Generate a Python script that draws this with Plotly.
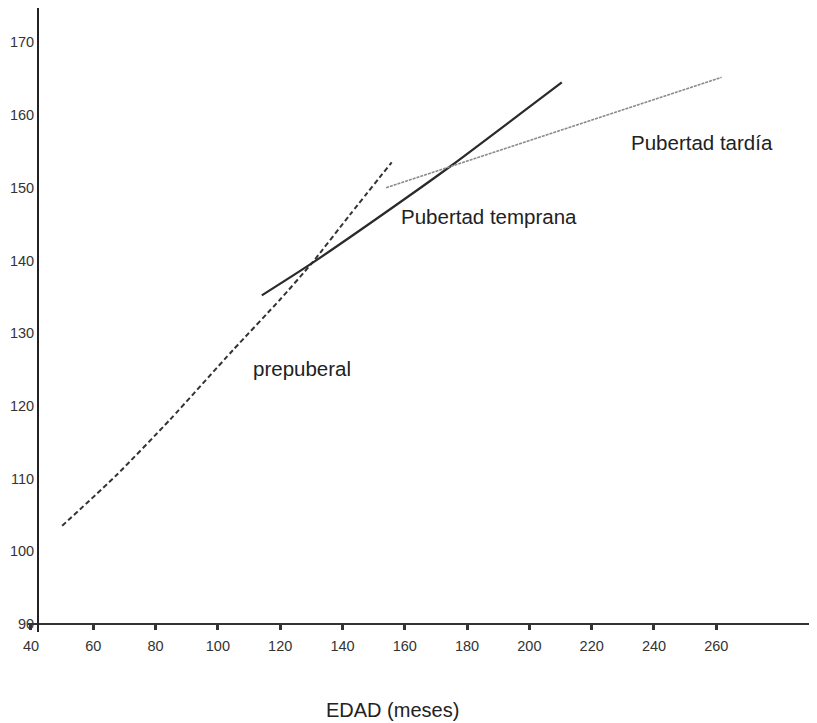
import plotly.graph_objects as go

# Data
prepuberal_age = [50, 67.5, 84.6, 104.9, 119.9, 130.1, 142.4, 155.8]
prepuberal_height = [103.5, 110.5, 118.1, 127.7, 134.6, 139.6, 146.3, 153.5]

temprana_age = [114.1, 130.1, 161.1, 175.1, 210.4]
temprana_height = [135.2, 139.6, 148.8, 153.1, 164.5]

tardia_age = [154, 261.7]
tardia_height = [150.0, 165.2]

x_ticks = [40, 60, 80, 100, 120, 140, 160, 180, 200, 220, 240, 260]
y_ticks = [90, 100, 110, 120, 130, 140, 150, 160, 170]

labels = ["prepuberal", "Pubertad temprana", "Pubertad tardía"]
label_age = [127.0, 186.9, 255.3]
label_height = [125.2, 146.0, 156.2]

FONT = "Liberation Sans, Arial, sans-serif"

fig = go.Figure()
fig.add_trace(go.Scatter(x=prepuberal_age, y=prepuberal_height, mode="lines",
                         line=dict(color="#333333", width=2, dash="5px,3px",
                                   shape="spline", smoothing=0.6),
                         showlegend=False))
fig.add_trace(go.Scatter(x=temprana_age, y=temprana_height, mode="lines",
                         line=dict(color="#2a2a2a", width=2.2, shape="spline", smoothing=0.6),
                         showlegend=False))
fig.add_trace(go.Scatter(x=tardia_age, y=tardia_height, mode="lines",
                         line=dict(color="#8a8a8a", width=1.6, dash="3px,1px"),
                         showlegend=False))

for t, xa, ya in zip(labels, label_age, label_height):
    fig.add_annotation(x=xa, y=ya, text=t, showarrow=False,
                       xanchor="center", yanchor="middle",
                       font=dict(family=FONT, size=20.5, color="#222222"))

fig.add_annotation(x=0.4626, y=-0.125, xref="paper", yref="paper",
                   text="EDAD (meses)", showarrow=False,
                   xanchor="center", yanchor="middle",
                   font=dict(family=FONT, size=20, color="#222222"))

fig.update_layout(
    width=809, height=715,
    margin=dict(l=20, r=0, t=0, b=91),
    paper_bgcolor="white", plot_bgcolor="white",
    font=dict(family=FONT, color="#333333"),
    xaxis=dict(range=[39.04, 292.33], tickvals=x_ticks, ticktext=[str(v) for v in x_ticks],
               showgrid=False, zeroline=False, showline=True, linecolor="#333333", linewidth=2,
               ticks="outside", ticklen=5, tickwidth=3, tickcolor="#333333",
               tickfont=dict(size=14.5, color="#333333"), ticklabelstandoff=4,
               anchor="free", position=0.01282),
    yaxis=dict(range=[88.90, 174.73], tickvals=y_ticks, ticktext=[str(v) for v in y_ticks],
               showgrid=False, zeroline=False, showline=True, linecolor="#222222", linewidth=2,
               ticks="", tickfont=dict(size=14.5, color="#333333"),
               anchor="free", position=0.01267),
)

fig.write_html("out.html")
